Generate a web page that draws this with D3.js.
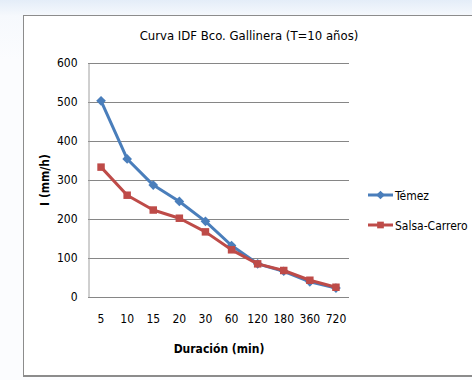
<!DOCTYPE html>
<html>
<head>
<meta charset="utf-8">
<script src="https://cdn.jsdelivr.net/npm/d3@7"></script>
<style>
  body { margin: 0; background: linear-gradient(#e4edf8 0px, #f6f9fd 16px, #fbfcfe 60px); }
  svg { display: block; }
  text { font-family: "DejaVu Sans", sans-serif; font-stretch: condensed; fill: #000; }
</style>
</head>
<body>
<script>
var w = 472;
var h = 380;

var duraciones = ["5", "10", "15", "20", "30", "60", "120", "180", "360", "720"];
var temez = [503, 354, 287, 245, 194, 132, 85, 66, 39, 23];
var salsaCarrero = [333, 261, 223, 202, 167, 121, 85, 68, 43, 25];
var yTicks = [0, 100, 200, 300, 400, 500, 600];

var plotLeft = 88, plotRight = 349, plotTop = 63, plotBottom = 297;

var svg = d3.select("body")
  .append("svg")
  .attr("width", w)
  .attr("height", h);

// marco del gráfico
svg.append("rect")
  .attr("x", 23.5).attr("y", 15.5)
  .attr("width", w).attr("height", 360)
  .attr("fill", "#fff")
  .attr("stroke", "#8c8c8c")
  .attr("stroke-width", 1);
svg.append("line")
  .attr("x1", 23).attr("x2", w)
  .attr("y1", 376).attr("y2", 376)
  .attr("stroke", "#8c8c8c")
  .attr("stroke-width", 2);

var xScale = d3.scaleBand()
  .domain(duraciones)
  .range([plotLeft, plotRight]);

var yScale = d3.scaleLinear()
  .domain([0, 600])
  .range([plotBottom, plotTop]);

// rejilla
svg.append("g")
  .selectAll("line")
  .data(yTicks)
  .enter()
  .append("line")
  .attr("x1", plotLeft)
  .attr("x2", plotRight)
  .attr("y1", function(d) { return yScale(d) + 0.5; })
  .attr("y2", function(d) { return yScale(d) + 0.5; })
  .attr("stroke", "#868686")
  .attr("stroke-width", 1);

var yAxis = d3.axisLeft(yScale)
  .tickValues(yTicks)
  .tickSize(0)
  .tickPadding(11);

svg.append("g")
  .attr("class", "y axis")
  .attr("transform", "translate(" + (plotLeft + 0.5) + ",0)")
  .call(yAxis)
  .call(function(g) {
    g.select(".domain").attr("stroke", "#a0a0a0");
    g.selectAll("text").attr("font-size", 12);
  });

var xAxis = d3.axisBottom(xScale)
  .tickSize(0)
  .tickPadding(17);

svg.append("g")
  .attr("class", "x axis")
  .attr("transform", "translate(0," + (plotBottom + 0.5) + ")")
  .call(xAxis)
  .call(function(g) {
    g.select(".domain").remove();
    g.selectAll("text").attr("font-size", 12);
  });
svg.selectAll(".axis").attr("font-family", null);

// series
var series = [
  { name: "Témez", values: temez, color: "#4a7ebb", symbol: d3.symbolDiamond2, size: 60 },
  { name: "Salsa-Carrero", values: salsaCarrero, color: "#be4b48", symbol: d3.symbolSquare, size: 56 }
];

var line = d3.line()
  .x(function(d, i) { return xScale(duraciones[i]) + xScale.bandwidth() / 2; })
  .y(function(d) { return yScale(d); });

series.forEach(function(s) {
  svg.append("path")
    .datum(s.values)
    .attr("d", line)
    .attr("fill", "none")
    .attr("stroke", s.color)
    .attr("stroke-width", 3)
    .attr("stroke-linejoin", "round");

  svg.append("g")
    .selectAll("path")
    .data(s.values)
    .enter()
    .append("path")
    .attr("d", d3.symbol().type(s.symbol).size(s.size))
    .attr("transform", function(d, i) {
      return "translate(" + (xScale(duraciones[i]) + xScale.bandwidth() / 2) + "," + yScale(d) + ")";
    })
    .attr("fill", s.color);
});

// leyenda
var legend = svg.append("g");
series.forEach(function(s, i) {
  var ly = 195 + i * 30;
  legend.append("line")
    .attr("x1", 368).attr("x2", 393)
    .attr("y1", ly).attr("y2", ly)
    .attr("stroke", s.color)
    .attr("stroke-width", 3);
  legend.append("path")
    .attr("d", d3.symbol().type(s.symbol).size(s.size * 0.8))
    .attr("transform", "translate(380.5," + ly + ")")
    .attr("fill", s.color);
  legend.append("text")
    .attr("x", 395)
    .attr("y", ly + 5)
    .attr("font-size", 12)
    .text(s.name);
});

// títulos
svg.append("text")
  .attr("x", 249)
  .attr("y", 40)
  .attr("text-anchor", "middle")
  .attr("font-size", 13)
  .text("Curva IDF Bco. Gallinera (T=10 años)");

svg.append("text")
  .attr("x", 219)
  .attr("y", 353)
  .attr("text-anchor", "middle")
  .attr("font-size", 12)
  .attr("font-weight", "bold")
  .text("Duración (min)");

svg.append("text")
  .attr("transform", "translate(49,180) rotate(-90)")
  .attr("text-anchor", "middle")
  .attr("font-size", 12)
  .attr("font-weight", "bold")
  .text("I (mm/h)");
</script>
</body>
</html>
